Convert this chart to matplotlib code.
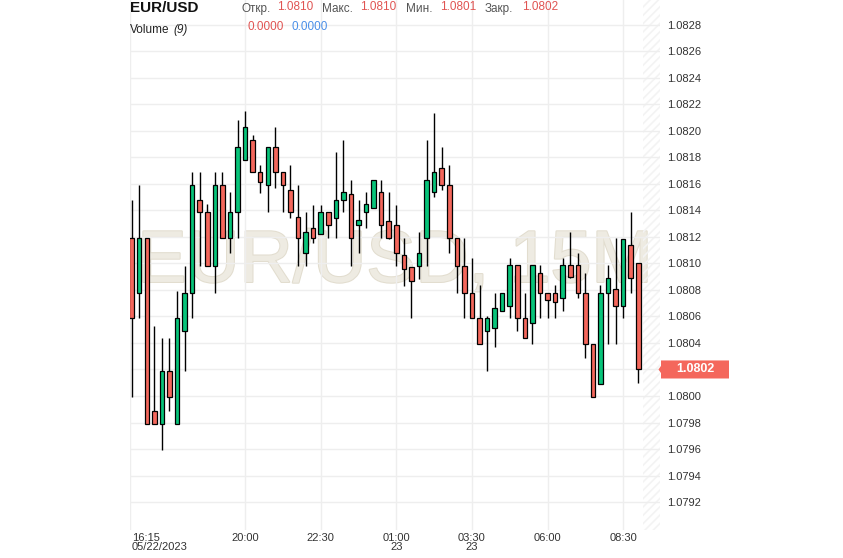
import pandas as pd
import matplotlib
matplotlib.use("Agg")
import matplotlib.pyplot as plt
import matplotlib.patheffects as pe
from matplotlib.patches import Polygon
from matplotlib import transforms

# -----------------------------
# Data (EUR/USD, 15 minute candles)
# -----------------------------
times = pd.date_range("2023-05-22 16:15", periods=68, freq="15min")

opens = [1.08119, 1.08078, 1.08119, 1.07989, 1.07979, 1.08019, 1.07979, 1.08049,
         1.08078, 1.08148, 1.08139, 1.08098, 1.08159, 1.08119, 1.08139, 1.08178,
         1.08193, 1.08169, 1.08159, 1.08188, 1.08169, 1.08155, 1.08135, 1.08108,
         1.08127, 1.08122, 1.08139, 1.08134, 1.08148, 1.08152, 1.08129, 1.08139,
         1.08142, 1.08154, 1.08132, 1.08129, 1.08106, 1.08097, 1.08098, 1.08119,
         1.08154, 1.08172, 1.08159, 1.08119, 1.08098, 1.08078, 1.08059, 1.08049,
         1.08051, 1.08064, 1.08068, 1.08099, 1.08059, 1.08055, 1.08093, 1.08078,
         1.08078, 1.08074, 1.08099, 1.08099, 1.08078, 1.08039, 1.08009, 1.08078,
         1.08081, 1.08068, 1.08114, 1.08100]
highs = [1.08148, 1.08159, 1.08119, 1.08053, 1.08044, 1.08044, 1.08079, 1.08098,
         1.08169, 1.08169, 1.08145, 1.08169, 1.08169, 1.08154, 1.08208, 1.08215,
         1.08197, 1.08174, 1.08188, 1.08203, 1.08169, 1.08174, 1.08159, 1.08139,
         1.08144, 1.08144, 1.08139, 1.08184, 1.08193, 1.08163, 1.08148, 1.08154,
         1.08163, 1.08163, 1.08154, 1.08144, 1.08119, 1.08097, 1.08124, 1.08193,
         1.08213, 1.08188, 1.08174, 1.08119, 1.08119, 1.08104, 1.08084, 1.08060,
         1.08078, 1.08078, 1.08104, 1.08099, 1.08078, 1.08099, 1.08099, 1.08078,
         1.08084, 1.08104, 1.08124, 1.08108, 1.08093, 1.08039, 1.08084, 1.08099,
         1.08119, 1.08118, 1.08139, 1.08100]
lows = [1.07999, 1.08059, 1.07979, 1.07979, 1.07959, 1.07989, 1.07979, 1.08019,
        1.08059, 1.08098, 1.08098, 1.08078, 1.08119, 1.08108, 1.08119, 1.08178,
        1.08169, 1.08153, 1.08139, 1.08157, 1.08139, 1.08134, 1.08098, 1.08098,
        1.08115, 1.08122, 1.08119, 1.08119, 1.08139, 1.08098, 1.08108, 1.08127,
        1.08142, 1.08119, 1.08118, 1.08098, 1.08083, 1.08059, 1.08088, 1.08098,
        1.08150, 1.08155, 1.08108, 1.08078, 1.08059, 1.08059, 1.08039, 1.08019,
        1.08037, 1.08064, 1.08059, 1.08049, 1.08044, 1.08039, 1.08059, 1.08059,
        1.08059, 1.08064, 1.08089, 1.08074, 1.08029, 1.07999, 1.08009, 1.08039,
        1.08039, 1.08059, 1.08078, 1.08010]
closes = [1.08059, 1.08119, 1.07979, 1.07979, 1.08019, 1.07999, 1.08059, 1.08078,
          1.08159, 1.08139, 1.08098, 1.08159, 1.08119, 1.08139, 1.08188, 1.08203,
          1.08169, 1.08161, 1.08188, 1.08169, 1.08159, 1.08139, 1.08119, 1.08124,
          1.08119, 1.08139, 1.08129, 1.08148, 1.08154, 1.08119, 1.08133, 1.08145,
          1.08163, 1.08129, 1.08119, 1.08108, 1.08096, 1.08087, 1.08108, 1.08163,
          1.08169, 1.08159, 1.08119, 1.08098, 1.08078, 1.08059, 1.08039, 1.08059,
          1.08066, 1.08078, 1.08099, 1.08059, 1.08044, 1.08099, 1.08078, 1.08072,
          1.08071, 1.08099, 1.08090, 1.08078, 1.08039, 1.07999, 1.08078, 1.08089,
          1.08068, 1.08118, 1.08089, 1.08020]

tick_times = ["16:15", "20:00", "22:30", "01:00", "03:30", "06:00", "08:30"]
tick_labels = ["16:15\n05/22/2023", "20:00", "22:30", "01:00\n23", "03:30\n23", "06:00", "08:30"]
price_ticks = [1.0792 + 0.0002 * k for k in range(19)]

header_fields = ["Откр.", "Макс.", "Мин.", "Закр."]
header_values = ["1.0810", "1.0810", "1.0801", "1.0802"]
last_price = 1.0802

# -----------------------------
# Style
# -----------------------------
RED = "#F4675C"
GREEN = "#08C47A"
GRID = "#EEEEEE"
plt.rcParams["font.family"] = ["Liberation Sans", "DejaVu Sans"]
plt.rcParams["hatch.linewidth"] = 1.2

fig = plt.figure(figsize=(8.43, 5.58), dpi=100)
ax = fig.add_axes([130 / 843, 1 - 530 / 558, 530 / 843, 530 / 558])

x = list(range(len(times)))
colors = [GREEN if c >= o else RED for o, c in zip(opens, closes)]
bottoms = [min(o, c) for o, c in zip(opens, closes)]
heights = [abs(c - o) for o, c in zip(opens, closes)]

# watermark
ax.text(0.5, 0.468, "EUR/USD, 15M", transform=ax.transAxes, ha="center", va="baseline",
        fontsize=53, color="#EEEBE2", zorder=0,
        path_effects=[pe.withStroke(linewidth=1.5, foreground="#E2DDCF")])

# wicks + bodies
ax.vlines(x, lows, highs, color="black", linewidth=1, zorder=3)
ax.bar(x, heights, bottom=bottoms, width=0.6, color=colors, edgecolor="black",
       linewidth=0.9, zorder=4)

# hatched future zone
ax.axvspan(67.6, 70.5, facecolor="none", edgecolor="#F3F3F3", hatch="////",
           linewidth=0, zorder=1)

ax.set_xlim(-0.22, 69.87)
ax.set_ylim(1.07899, 1.082985)

# grid
tick_pos = [x[[t.strftime("%H:%M") for t in times].index(s)] for s in tick_times]
for p in price_ticks:
    ax.axhline(p, color=GRID, linewidth=1, zorder=1)
for tp in tick_pos:
    ax.axvline(tp - (0.22 if tp == 0 else 0), color=GRID, linewidth=1, zorder=1)

for s in ax.spines.values():
    s.set_visible(False)

ax.yaxis.tick_right()
ax.set_yticks(price_ticks)
# the last-price marker covers its own tick label
ax.set_yticklabels(["" if abs(p - last_price) < 1e-7 else f"{p:.4f}" for p in price_ticks])
ax.tick_params(axis="y", length=0, pad=5, labelsize=8, labelcolor="#333333")

ax.set_xticks(tick_pos)
ax.set_xticklabels(tick_labels, linespacing=0.95)
ax.tick_params(axis="x", length=0, pad=2, labelsize=8, labelcolor="#333333")
for lab in ax.get_xticklabels():
    if lab.get_text().startswith("16:15"):
        lab.set_ha("left")
        lab.set_x(-0.22)

# last price marker
blend = transforms.blended_transform_factory(fig.transFigure, ax.transData)
hh = 0.000068
poly = Polygon([(658.5 / 843, last_price), (661 / 843, last_price + hh * 0.4),
                (661 / 843, last_price + hh), (729 / 843, last_price + hh),
                (729 / 843, last_price - hh), (661 / 843, last_price - hh),
                (661 / 843, last_price - hh * 0.4)],
               closed=True, transform=blend, facecolor=RED, edgecolor="none",
               clip_on=False, zorder=5)
ax.add_patch(poly)
ax.text(695 / 843, last_price, f"{last_price:.4f}", transform=blend, ha="center",
        va="center", color="white", fontsize=9, fontweight="bold", zorder=6)

# header
def px(xp, yp):
    return xp / 843, 1 - yp / 558

fig.text(*px(130, 8), "EUR/USD", fontsize=11, fontweight="bold", va="center", color="#111111")
fig.text(*px(130, 30), "Volume", fontsize=8.5, va="center", color="#222222")
fig.text(*px(173, 30), "(9)", fontsize=8.5, va="center", style="italic", color="#222222")

field_x = [241, 322, 406, 485]
value_x = [277, 360, 440, 522]
for f, v, fx, vx in zip(header_fields, header_values, field_x, value_x):
    fig.text(*px(fx, 9), f, fontsize=8.5, va="center", color="#555555")
    fig.text(*px(vx, 7), v, fontsize=8.5, va="center", color="#E05452")

fig.text(*px(247, 27), "0.0000", fontsize=8.5, va="center", color="#E05452")
fig.text(*px(292, 27), "0.0000", fontsize=8.5, va="center", color="#4A8FE8")

fig.savefig("out.png", dpi=100)
